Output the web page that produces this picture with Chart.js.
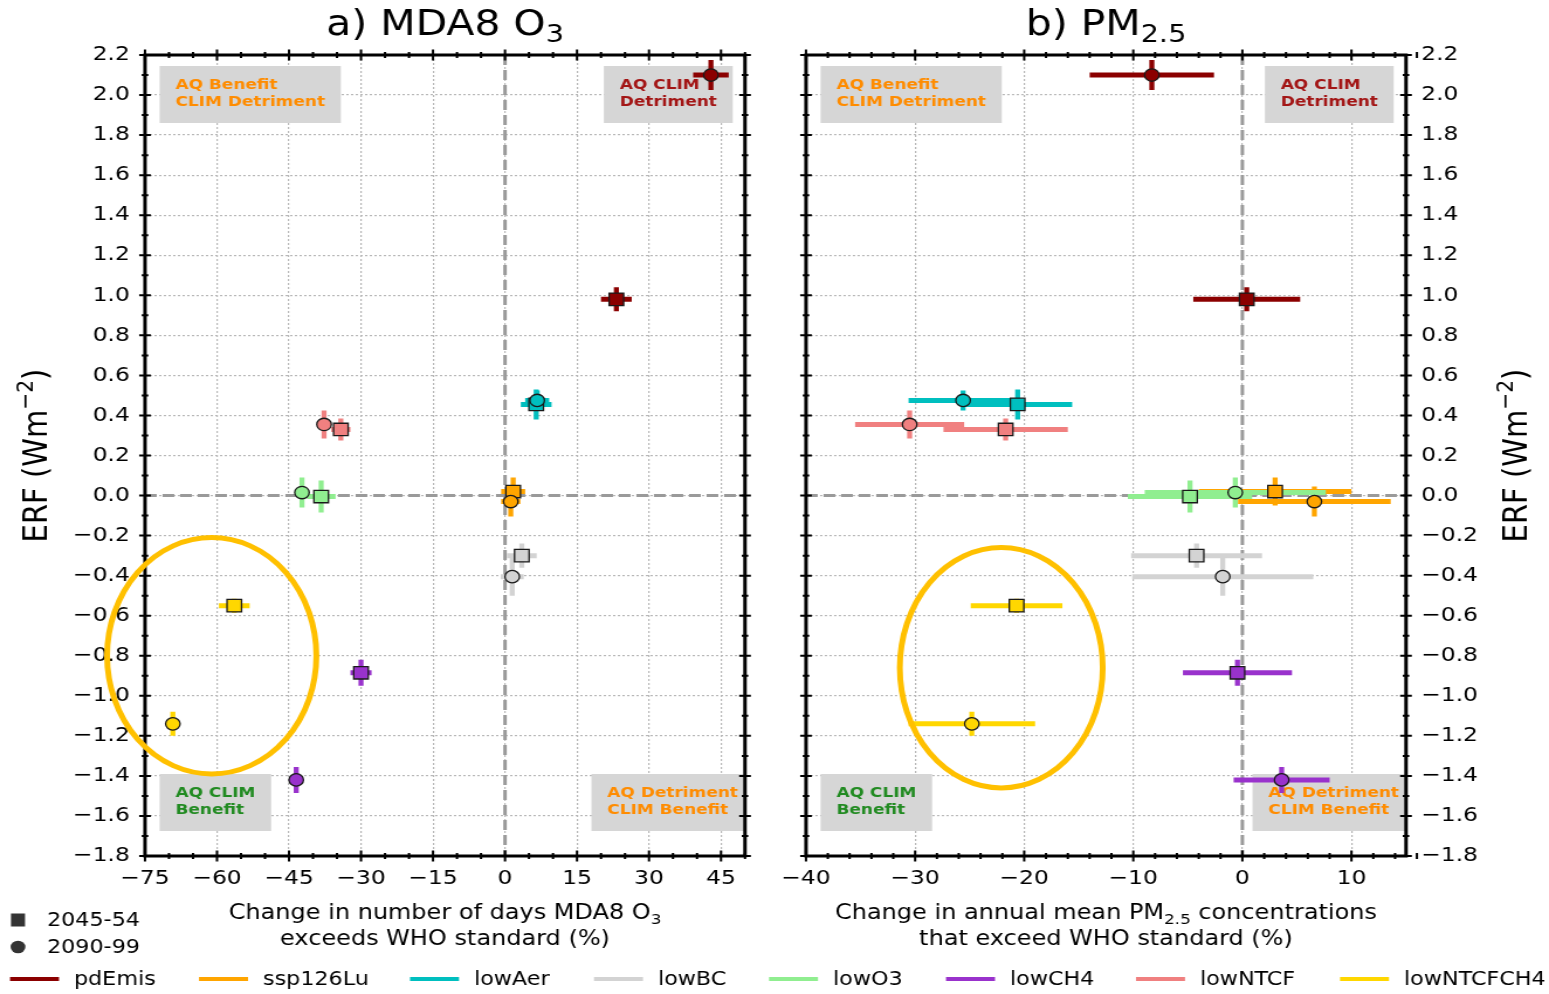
<!DOCTYPE html>
<html>
<head>
<meta charset="utf-8">
<title>ERF vs air quality change</title>
<script src="https://cdn.jsdelivr.net/npm/chart.js@4.4.0/dist/chart.umd.min.js"></script>
<style>
  html, body { margin: 0; padding: 0; background: #fff; }
  #wrap { position: relative; width: 1549px; height: 994px; overflow: hidden; background: #fff; }
  #wrap canvas { position: absolute; left: 0; top: 0; }
</style>
</head>
<body>
<div id="wrap">
  <canvas id="chartO3" width="1324" height="994" style="width:1549px;height:994px"></canvas>
  <canvas id="chartPM" width="1324" height="994" style="width:1549px;height:994px"></canvas>
</div>
<script>
// the original figure is stretched sideways, so the canvases are drawn narrower and widened by css
const W = 1324, H = 994;
const SX = 1549 / W;
const rx = v => v / SX; // reference px -> canvas px (horizontal only)

// === series ===
const seriesNames = ['pdEmis', 'ssp126Lu', 'lowAer', 'lowBC', 'lowO3', 'lowCH4', 'lowNTCF', 'lowNTCFCH4'];
const seriesColors = ['#8b0000', '#ffa500', '#00bfbf', '#d3d3d3', '#90ee90', '#9932cc', '#f08080', '#ffd700'];
const periodNames = ['2045-54', '2090-99'];

// ERF (W m-2), same in both panels
const erf2045 = [0.98, 0.02, 0.455, -0.30, -0.005, -0.885, 0.33, -0.55];
const erf2045Err = [0.06, 0.07, 0.075, 0.06, 0.08, 0.065, 0.055, 0.035];
const erf2090 = [2.10, -0.03, 0.475, -0.405, 0.015, -1.42, 0.355, -1.14];
const erf2090Err = [0.075, 0.075, 0.05, 0.095, 0.075, 0.065, 0.07, 0.06];

// a) change in days MDA8 O3 exceeds WHO standard (%)
const o3Days2045 = [23.2, 1.7, 6.5, 3.5, -38.3, -30.0, -34.2, -56.4];
const o3Days2045Err = [3.2, 2.5, 3.2, 3.1, 3.0, 2.2, 2.0, 3.2];
const o3Days2090 = [42.9, 1.2, 6.7, 1.5, -42.3, -43.5, -37.7, -69.2];
const o3Days2090Err = [3.7, 2.0, 2.5, 2.4, 1.5, 0.8, 1.2, 0.8];

// b) change in annual mean PM2.5 exceeding WHO standard (%)
const pm2045 = [0.4, 3.0, -20.6, -4.2, -4.8, -0.45, -21.7, -20.7];
const pm2045Err = [4.9, 7.0, 5.0, 6.0, 5.7, 5.0, 5.7, 4.2];
const pm2090 = [-8.3, 6.6, -25.6, -1.8, -0.65, 3.6, -30.5, -24.8];
const pm2090Err = [5.7, 7.0, 5.0, 8.3, 8.3, 4.4, 5.0, 5.8];

// axis ranges / ticks
const erfMin = -1.8, erfMax = 2.2, erfStep = 0.2, erfMinor = 0.1;
const o3Min = -75, o3Max = 50, o3Step = 15, o3Minor = 5;
const pmMin = -40, pmMax = 15, pmStep = 10, pmMinor = 2;

// highlighted lowNTCFCH4 group: centre x, centre y, radius x, radius y (data units)
const o3Ellipse = [-61.1, -0.80, 21.8, 0.59];
const pmEllipse = [-22.1, -0.86, 9.3, 0.60];

// quadrant labels
const quadLabels = [
  { lines: ['AQ Benefit', 'CLIM Detriment'], color: '#ff8c00', right: false, bottom: false },
  { lines: ['AQ CLIM', 'Detriment'], color: '#a31515', right: true, bottom: false },
  { lines: ['AQ CLIM', 'Benefit'], color: '#228b22', right: false, bottom: true },
  { lines: ['AQ Detriment', 'CLIM Benefit'], color: '#ff8c00', right: true, bottom: true }
];

const FONT = '"DejaVu Sans", sans-serif';
Chart.defaults.font.family = FONT;
Chart.defaults.color = '#000';

function setFont(ctx, size, weight) {
  ctx.font = (weight || 'normal') + ' ' + size + 'px ' + FONT;
}

// text with sub/superscript parts: [[text, ''|'sub'|'sup'], ...]
function drawRich(ctx, parts, x, y, size, align) {
  let total = 0;
  const widths = parts.map(p => {
    setFont(ctx, p[1] ? size * 0.7 : size);
    const w = ctx.measureText(p[0]).width;
    total += w;
    return w;
  });
  let cx = align === 'center' ? x - total / 2 : (align === 'right' ? x - total : x);
  ctx.textAlign = 'left';
  ctx.textBaseline = 'alphabetic';
  const base = y + size * 0.36;
  parts.forEach((p, i) => {
    setFont(ctx, p[1] ? size * 0.7 : size);
    let dy = 0;
    if (p[1] === 'sub') dy = size * 0.22;
    if (p[1] === 'sup') dy = -size * 0.42;
    ctx.fillText(p[0], cx, base + dy);
    cx += widths[i];
  });
}

function fmt(v, d) {
  const s = (Math.abs(v) < 1e-9 ? 0 : v).toFixed(d);
  return s.replace('-', '\u2212');
}

function drawBox(ctx, a, b) {
  setFont(ctx, 14.5, 'bold');
  const padX = 13.5;
  const tw = Math.max(...b.lines.map(l => ctx.measureText(l).width));
  const bw = tw + 2 * padX, bh = 57;
  let left;
  if (b.right) left = b.bottom ? a.right + 7.5 - bw : a.right - 10.5 - bw;
  else left = a.left + 12.5;
  const top = b.bottom ? a.bottom - 25 - bh : a.top + 11;
  ctx.fillStyle = '#d6d6d6';
  ctx.fillRect(left, top, bw, bh);
  ctx.fillStyle = b.color;
  ctx.textAlign = 'left';
  ctx.textBaseline = 'middle';
  ctx.fillText(b.lines[0], left + padX, top + 19);
  ctx.fillText(b.lines[1], left + padX, top + 36);
}

function panelDecor(cfg) {
  return {
    id: 'panelDecor',
    beforeDraw(chart) {
      if (!cfg.legend) return;
      const ctx = chart.ctx;
      ctx.save();
      ctx.fillStyle = '#fff';
      ctx.fillRect(0, 0, chart.width, chart.height);
      ctx.restore();
    },
    beforeDatasetsDraw(chart) {
      const ctx = chart.ctx, a = chart.chartArea;
      const xs = chart.scales.x, ys = chart.scales.y;
      ctx.save();
      ctx.beginPath();
      ctx.rect(a.left, a.top, a.right - a.left, a.bottom - a.top);
      ctx.clip();

      quadLabels.forEach(b => drawBox(ctx, a, b));

      // dashed zero lines
      const x0 = xs.getPixelForValue(0), y0 = ys.getPixelForValue(0);
      ctx.strokeStyle = '#9a9a9a';
      ctx.lineWidth = 3;
      ctx.setLineDash([10, 5]);
      ctx.beginPath(); ctx.moveTo(a.left, y0); ctx.lineTo(a.right, y0); ctx.stroke();
      ctx.beginPath(); ctx.moveTo(x0, a.top); ctx.lineTo(x0, a.bottom); ctx.stroke();
      ctx.setLineDash([]);

      // error bars, under all markers
      seriesNames.forEach((name, i) => {
        chart.data.datasets.forEach(ds => {
          const p = ds.data[i];
          const px = xs.getPixelForValue(p.x), py = ys.getPixelForValue(p.y);
          ctx.strokeStyle = seriesColors[i];
          ctx.lineWidth = 5;
          ctx.beginPath();
          ctx.moveTo(xs.getPixelForValue(p.x - ds.xErr[i]), py);
          ctx.lineTo(xs.getPixelForValue(p.x + ds.xErr[i]), py);
          ctx.stroke();
          ctx.lineWidth = 4.3;
          ctx.beginPath();
          ctx.moveTo(px, ys.getPixelForValue(p.y - ds.yErr[i]));
          ctx.lineTo(px, ys.getPixelForValue(p.y + ds.yErr[i]));
          ctx.stroke();
        });
      });
      ctx.restore();
    },
    afterDraw(chart) {
      const ctx = chart.ctx, a = chart.chartArea;
      const xs = chart.scales.x, ys = chart.scales.y;
      ctx.save();

      // tick marks on all four spines (crossing the spine)
      ctx.strokeStyle = '#000';
      ctx.lineWidth = 2;
      const nx = Math.round((cfg.xMax - cfg.xMin) / cfg.xMinor);
      for (let k = 0; k <= nx; k++) {
        const v = cfg.xMin + k * cfg.xMinor;
        const r = (v - cfg.xMin) / cfg.xStep;
        const len = Math.abs(r - Math.round(r)) < 1e-6 ? 5.5 : 3;
        const px = xs.getPixelForValue(v);
        ctx.beginPath();
        ctx.moveTo(px, a.top - len); ctx.lineTo(px, a.top + len);
        ctx.moveTo(px, a.bottom - len); ctx.lineTo(px, a.bottom + len);
        ctx.stroke();
      }
      const ny = Math.round((erfMax - erfMin) / erfMinor);
      for (let k = 0; k <= ny; k++) {
        const v = erfMin + k * erfMinor;
        const len = k % 2 === 0 ? 5 : 2.8;
        const py = ys.getPixelForValue(v);
        ctx.beginPath();
        ctx.moveTo(a.left - len, py); ctx.lineTo(a.left + len, py);
        ctx.moveTo(a.right - len, py); ctx.lineTo(a.right + len, py);
        ctx.stroke();
      }
      ctx.lineWidth = 3;
      ctx.strokeRect(a.left, a.top, a.right - a.left, a.bottom - a.top);

      // highlighted group
      const e = cfg.ellipse;
      const ex = xs.getPixelForValue(e[0]), ey = ys.getPixelForValue(e[1]);
      const erx = Math.abs(xs.getPixelForValue(e[0] + e[2]) - ex);
      const ery = Math.abs(ys.getPixelForValue(e[1] + e[3]) - ey);
      ctx.strokeStyle = '#ffc000';
      ctx.lineWidth = 5;
      ctx.beginPath();
      ctx.ellipse(ex, ey, erx, ery, 0, 0, Math.PI * 2);
      ctx.stroke();

      // titles
      ctx.fillStyle = '#000';
      const cx = (a.left + a.right) / 2;
      drawRich(ctx, cfg.title, cx, 22, 35, 'center');
      drawRich(ctx, cfg.xTitle1, cx, 912, 20.5, 'center');
      drawRich(ctx, cfg.xTitle2, cx, 938, 20.5, 'center');

      ctx.save();
      ctx.translate(cfg.yTitleX, (a.top + a.bottom) / 2);
      ctx.rotate(-Math.PI / 2);
      drawRich(ctx, [['ERF (Wm', ''], ['\u22122', 'sup'], [')', '']], 0, 0, 29, 'center');
      ctx.restore();

      if (cfg.legend) drawLegend(ctx);
      ctx.restore();
    }
  };
}

function drawLegend(ctx) {
  ctx.fillStyle = '#333';
  ctx.fillRect(rx(18) - 6, 920 - 6.5, 12, 13);
  ctx.beginPath();
  ctx.arc(rx(18), 947, 6.3, 0, Math.PI * 2);
  ctx.fill();
  ctx.fillStyle = '#000';
  setFont(ctx, 19);
  ctx.textAlign = 'left';
  ctx.textBaseline = 'middle';
  ctx.fillText(periodNames[0], rx(47), 921);
  ctx.fillText(periodNames[1], rx(47), 948);

  const lineStarts = [10, 199, 410, 594, 769, 946, 1136, 1340];
  seriesNames.forEach((name, i) => {
    const x = rx(lineStarts[i]);
    ctx.strokeStyle = seriesColors[i];
    ctx.lineWidth = 4;
    ctx.beginPath();
    ctx.moveTo(x, 979);
    ctx.lineTo(x + rx(49), 979);
    ctx.stroke();
    ctx.fillStyle = '#000';
    ctx.fillText(name, x + rx(64), 980);
  });
}

function pts(xv, yv) {
  return xv.map((x, i) => ({ x: x, y: yv[i] }));
}

function makeChart(id, cfg) {
  const datasets = [
    {
      label: periodNames[0], data: pts(cfg.x2045, erf2045), xErr: cfg.x2045Err, yErr: erf2045Err,
      pointStyle: 'rect', pointRadius: 8.8, order: 2
    },
    {
      label: periodNames[1], data: pts(cfg.x2090, erf2090), xErr: cfg.x2090Err, yErr: erf2090Err,
      pointStyle: 'circle', pointRadius: 6.2, order: 1
    }
  ];
  datasets.forEach(ds => {
    ds.pointBackgroundColor = seriesColors;
    ds.pointBorderColor = '#1a1a1a';
    ds.pointBorderWidth = 1.3;
    ds.pointHoverRadius = ds.pointRadius;
  });

  const gridOpts = { color: '#b8b8b8', lineWidth: 1.2, drawTicks: false };
  const borderOpts = { display: false, dash: [2, 2] };

  return new Chart(document.getElementById(id), {
    type: 'scatter',
    data: { datasets },
    options: {
      responsive: false,
      animation: false,
      devicePixelRatio: 1,
      events: [],
      layout: { padding: cfg.padding },
      plugins: { legend: { display: false }, tooltip: { enabled: false } },
      scales: {
        x: {
          type: 'linear', position: 'bottom', min: cfg.xMin, max: cfg.xMax,
          afterFit: s => { s.height = H - 856; },
          ticks: {
            stepSize: cfg.xStep, includeBounds: false, autoSkip: false, maxRotation: 0,
            padding: 11, color: '#000', font: { size: 20 },
            callback: v => fmt(v, 0)
          },
          grid: gridOpts,
          border: borderOpts
        },
        y: {
          type: 'linear', position: cfg.yPos, min: erfMin, max: erfMax,
          afterFit: s => { s.width = cfg.yWidth; },
          ticks: {
            stepSize: erfStep, autoSkip: false, padding: 13, color: '#000', font: { size: 20 },
            callback: v => fmt(v, 1)
          },
          grid: gridOpts,
          border: borderOpts
        }
      }
    },
    plugins: [panelDecor(cfg)]
  });
}

makeChart('chartO3', {
  x2045: o3Days2045, x2045Err: o3Days2045Err, x2090: o3Days2090, x2090Err: o3Days2090Err,
  xMin: o3Min, xMax: o3Max, xStep: o3Step, xMinor: o3Minor,
  ellipse: o3Ellipse,
  padding: { left: 0, right: W - rx(745), top: 55, bottom: 0 },
  yPos: 'left', yWidth: rx(145), yTitleX: rx(35),
  title: [['a) MDA8 O', ''], ['3', 'sub']],
  xTitle1: [['Change in number of days MDA8 O', ''], ['3', 'sub']],
  xTitle2: [['exceeds WHO standard (%)', '']],
  legend: true
});

makeChart('chartPM', {
  x2045: pm2045, x2045Err: pm2045Err, x2090: pm2090, x2090Err: pm2090Err,
  xMin: pmMin, xMax: pmMax, xStep: pmStep, xMinor: pmMinor,
  ellipse: pmEllipse,
  padding: { left: rx(806), right: 0, top: 55, bottom: 0 },
  yPos: 'right', yWidth: W - rx(1406), yTitleX: rx(1515),
  title: [['b) PM', ''], ['2.5', 'sub']],
  xTitle1: [['Change in annual mean PM', ''], ['2.5', 'sub'], [' concentrations', '']],
  xTitle2: [['that exceed WHO standard (%)', '']],
  legend: false
});
</script>
</body>
</html>
